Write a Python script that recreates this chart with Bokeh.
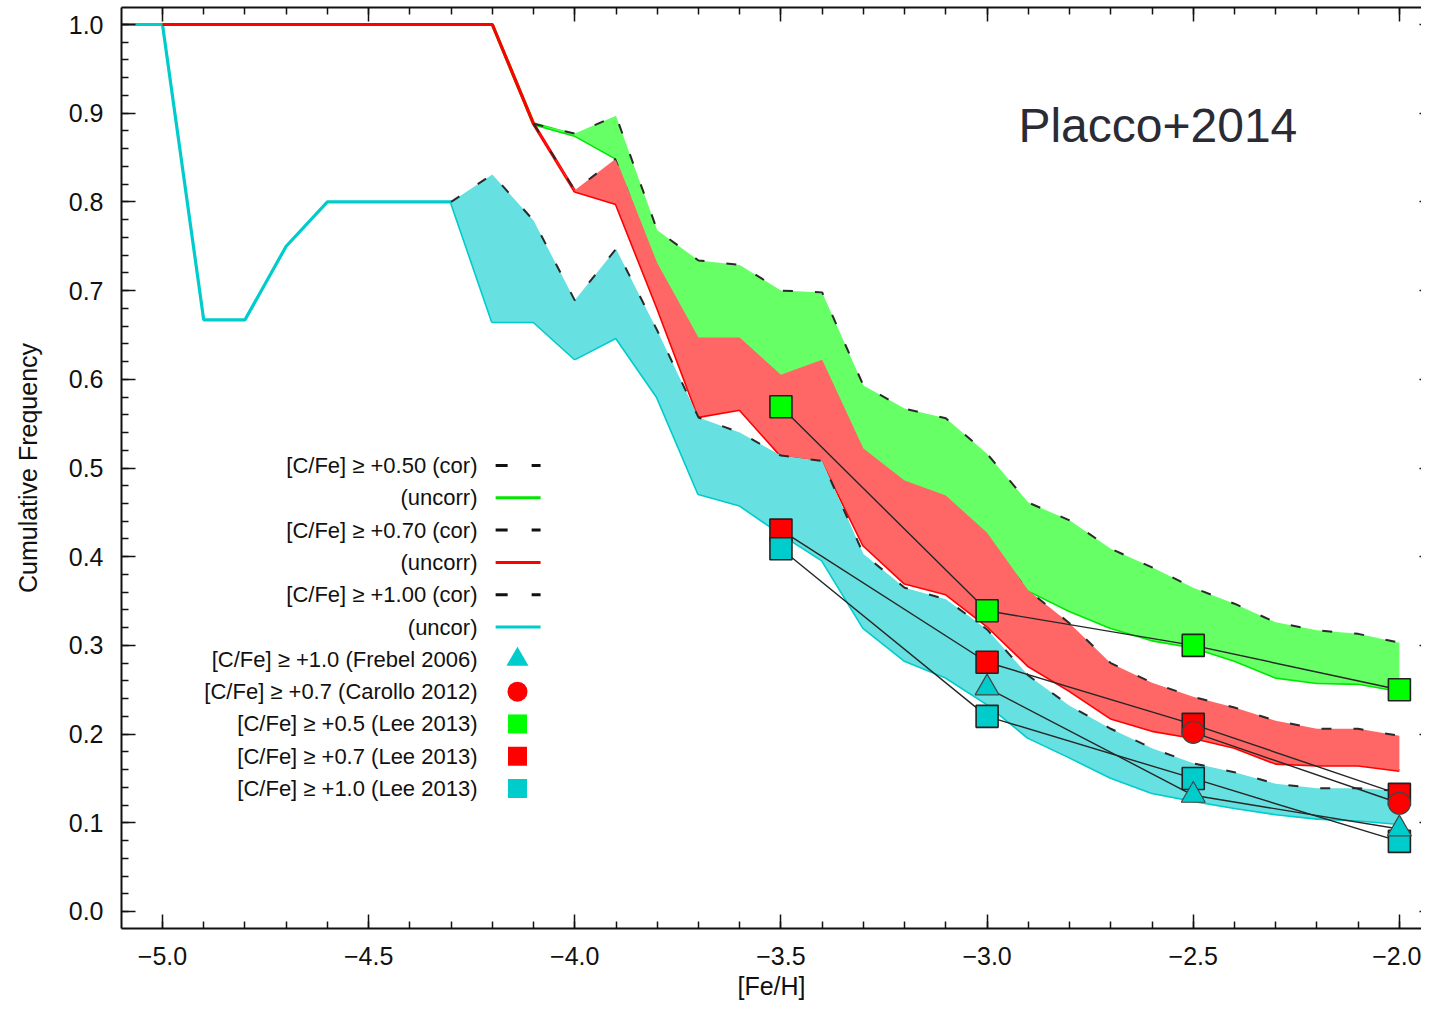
from bokeh.plotting import figure
from bokeh.models import Range1d, LinearAxis, FixedTicker, CustomJSTickFormatter, Label
from bokeh.core.properties import value
from bokeh.embed import file_html
from bokeh.resources import INLINE

FONT = "Liberation Sans"

# ---------------- data ----------------
feh_cyan = [-5.1, -5.0, -4.9, -4.8, -4.7, -4.6, -4.5, -4.4, -4.3, -4.2, -4.1, -4.0,
            -3.9, -3.8, -3.7, -3.6, -3.5, -3.4, -3.3, -3.2, -3.1, -3.0, -2.9, -2.8,
            -2.7, -2.6, -2.5, -2.4, -2.3, -2.2, -2.1, -2.0]
feh = [-5.0, -4.9, -4.8, -4.7, -4.6, -4.5, -4.4, -4.3, -4.2, -4.1, -4.0,
       -3.9, -3.8, -3.7, -3.6, -3.5, -3.4, -3.3, -3.2, -3.1, -3.0, -2.9, -2.8,
       -2.7, -2.6, -2.5, -2.4, -2.3, -2.2, -2.1, -2.0]

# [C/Fe] >= +0.50
green_uncorr = [1.0, 1.0, 1.0, 1.0, 1.0, 1.0, 1.0, 1.0, 1.0, 0.888, 0.875,
                0.849, 0.731, 0.647, 0.647, 0.605, 0.622, 0.522, 0.486, 0.469, 0.427,
                0.362, 0.339, 0.320, 0.306, 0.298, 0.283, 0.264, 0.258, 0.257, 0.249]
green_cor = [0.888, 0.877, 0.897, 0.768, 0.734, 0.729, 0.700, 0.698, 0.593, 0.567,
             0.556, 0.516, 0.461, 0.441, 0.409, 0.388, 0.365, 0.347, 0.326, 0.317,
             0.313, 0.303]

# [C/Fe] >= +0.70
red_uncorr = [1.0, 1.0, 1.0, 1.0, 1.0, 1.0, 1.0, 1.0, 1.0, 0.888, 0.812,
              0.798, 0.681, 0.558, 0.566, 0.514, 0.508, 0.413, 0.370, 0.358, 0.322,
              0.277, 0.249, 0.218, 0.204, 0.196, 0.185, 0.167, 0.165, 0.165, 0.159]
red_cor = [0.888, 0.813, 0.849, 0.741, 0.657, 0.657, 0.615, 0.632, 0.532, 0.496,
           0.479, 0.437, 0.362, 0.325, 0.280, 0.258, 0.242, 0.230, 0.215, 0.206,
           0.206, 0.198]

# [C/Fe] >= +1.00
cyan_uncor = [1.0, 1.0, 0.667, 0.667, 0.750, 0.800, 0.800, 0.800, 0.800, 0.665, 0.665,
              0.623, 0.647, 0.580, 0.471, 0.458, 0.426, 0.396, 0.320, 0.283, 0.264,
              0.234, 0.196, 0.174, 0.151, 0.134, 0.125, 0.117, 0.110, 0.105, 0.103,
              0.099]
cyan_cor = [0.800, 0.831, 0.779, 0.689, 0.747, 0.655, 0.557, 0.540, 0.514, 0.508,
            0.403, 0.365, 0.352, 0.318, 0.266, 0.232, 0.206, 0.184, 0.167, 0.157,
            0.144, 0.139, 0.139, 0.136]

# literature points
frebel_feh = [-3.0, -2.5, -2.0]
frebel_frac = [0.252, 0.131, 0.093]
carollo_feh = [-2.5, -2.0]
carollo_frac = [0.202, 0.122]
lee_feh = [-3.5, -3.0, -2.5, -2.0]
lee05_frac = [0.569, 0.339, 0.300, 0.250]
lee07_frac = [0.430, 0.281, 0.211, 0.132]
lee10_frac = [0.409, 0.220, 0.150, 0.079]

x_ticks = [-5.0, -4.5, -4.0, -3.5, -3.0, -2.5, -2.0]
x_tick_labels = ["\u22125.0", "\u22124.5", "\u22124.0", "\u22123.5", "\u22123.0", "\u22122.5", "\u22122.0"]
y_ticks = [0.0, 0.1, 0.2, 0.3, 0.4, 0.5, 0.6, 0.7, 0.8, 0.9, 1.0]
y_tick_labels = ["0.0", "0.1", "0.2", "0.3", "0.4", "0.5", "0.6", "0.7", "0.8", "0.9", "1.0"]

legend_labels = ["[C/Fe] \u2265 +0.50 (cor)", "(uncorr)", "[C/Fe] \u2265 +0.70 (cor)", "(uncorr)",
                 "[C/Fe] \u2265 +1.00 (cor)", "(uncor)", "[C/Fe] \u2265 +1.0 (Frebel 2006)",
                 "[C/Fe] \u2265 +0.7 (Carollo 2012)", "[C/Fe] \u2265 +0.5 (Lee 2013)",
                 "[C/Fe] \u2265 +0.7 (Lee 2013)", "[C/Fe] \u2265 +1.0 (Lee 2013)"]

# ---------------- colours ----------------
G_LINE, G_FILL, G_MARK = "#00e800", "#66ff66", "#00ff00"
R_LINE, R_FILL, R_MARK = "#ff0000", "#ff6666", "#ff0000"
C_LINE, C_FILL, C_MARK = "#00cccc", "#66e0e0", "#00cccc"
DASH_C = "#2a2a2a"

x_minor = [round(-5.1 + 0.1 * i, 2) for i in range(33)]
y_minor = [round(0.02 * i, 2) for i in range(52)]

p = figure(width=1421, height=1002,
           x_range=Range1d(-5.0994, -1.9464), y_range=Range1d(-0.01917, 1.01917),
           output_backend="svg", toolbar_location=None,
           min_border_left=121, min_border_right=0, min_border_top=7, min_border_bottom=74,
           x_axis_label="[Fe/H]", y_axis_label="Cumulative Frequency")
p.outline_line_color = None
p.xgrid.visible = False
p.ygrid.visible = False
p.background_fill_color = "white"

fmt_code = "const i = tvals.findIndex(t => Math.abs(t - tick) < 1e-6); return i >= 0 ? tlabels[i] : '';"
p.xaxis.formatter = CustomJSTickFormatter(args=dict(tvals=x_ticks, tlabels=x_tick_labels), code=fmt_code)
p.yaxis.formatter = CustomJSTickFormatter(args=dict(tvals=y_ticks, tlabels=y_tick_labels), code=fmt_code)
p.xaxis.ticker = FixedTicker(ticks=x_ticks, minor_ticks=x_minor)
p.yaxis.ticker = FixedTicker(ticks=y_ticks, minor_ticks=y_minor)

for ax in list(p.xaxis) + list(p.yaxis):
    ax.major_tick_in = 14
    ax.major_tick_out = 0
    ax.minor_tick_in = 7
    ax.minor_tick_out = 0
    ax.axis_line_width = 2
    ax.axis_line_color = "#111111"
    ax.major_tick_line_width = 1.5
    ax.minor_tick_line_width = 1.5
    ax.major_tick_line_color = "#111111"
    ax.minor_tick_line_color = "#111111"
    ax.major_label_text_font = FONT
    ax.major_label_text_font_size = "25px"
    ax.major_label_text_color = "#111111"
    ax.axis_label_text_font = FONT
    ax.axis_label_text_font_size = "25px"
    ax.axis_label_text_font_style = "normal"
    ax.axis_label_text_color = "#111111"
p.xaxis.major_label_standoff = 18
p.xaxis.axis_label_standoff = 4
p.yaxis.major_label_standoff = 18
p.yaxis.axis_label_standoff = 24

empty = CustomJSTickFormatter(code="return '';")
top = LinearAxis(ticker=FixedTicker(ticks=x_ticks, minor_ticks=x_minor), formatter=empty,
                 major_tick_in=14, major_tick_out=0, minor_tick_in=7, minor_tick_out=0,
                 major_label_standoff=0, major_label_text_font_size="0px",
                 axis_line_width=2, axis_line_color="#111111",
                 major_tick_line_width=1.5, minor_tick_line_width=1.5,
                 major_tick_line_color="#111111", minor_tick_line_color="#111111")
p.add_layout(top, "above")
right = LinearAxis(ticker=FixedTicker(ticks=y_ticks), formatter=empty,
                   major_tick_in=2, major_tick_out=0, minor_tick_in=0, minor_tick_out=0,
                   major_label_standoff=0, major_label_text_font_size="0px",
                   axis_line_color=None, major_tick_line_width=1.5,
                   major_tick_line_color="#111111")
p.add_layout(right, "right")

# ---------------- uncorrected lines (drawn under the bands) ----------------
p.line(feh_cyan, cyan_uncor, line_color=C_LINE, line_width=3.2)
p.line(feh, green_uncorr, line_color=G_LINE, line_width=3.2)
p.line(feh, red_uncorr, line_color=R_LINE, line_width=3.2)

# ---------------- bands ----------------
nc = len(cyan_cor)
p.varea(x=feh_cyan[-nc:], y1=cyan_uncor[-nc:], y2=cyan_cor, fill_color=C_FILL)
nr = len(red_cor)
p.varea(x=feh[-nr:], y1=red_uncorr[-nr:], y2=red_cor, fill_color=R_FILL)
p.line(feh[-nr:], red_cor, line_color=DASH_C, line_width=2, line_dash="10 22")
ng = len(green_cor)
p.varea(x=feh[-ng:], y1=green_uncorr[-ng:], y2=green_cor, fill_color=G_FILL)
p.line(feh[-ng:], green_cor, line_color=DASH_C, line_width=2, line_dash="10 22")
p.line(feh_cyan[-nc:], cyan_cor, line_color=DASH_C, line_width=2, line_dash="10 22")

# ---------------- literature points ----------------
LINK = "#262626"
p.line(lee_feh, lee05_frac, line_color=LINK, line_width=1.4)
p.line(lee_feh, lee07_frac, line_color=LINK, line_width=1.4)
p.line(lee_feh, lee10_frac, line_color=LINK, line_width=1.4)
p.line(carollo_feh, carollo_frac, line_color=LINK, line_width=1.4)
p.line(frebel_feh, frebel_frac, line_color=LINK, line_width=1.4)

p.scatter(lee_feh, lee05_frac, marker="square", size=22, fill_color=G_MARK, line_color="#222222", line_width=1.6)
p.scatter(lee_feh, lee07_frac, marker="square", size=22, fill_color=R_MARK, line_color="#222222", line_width=1.6)
p.scatter(lee_feh, lee10_frac, marker="square", size=22, fill_color=C_MARK, line_color="#222222", line_width=1.6)
p.scatter(carollo_feh, carollo_frac, marker="circle", size=22, fill_color=R_MARK, line_color="#444444", line_width=1.2)
p.scatter(frebel_feh, frebel_frac, marker="triangle", size=24, fill_color=C_MARK, line_color="#444444", line_width=1.2)

# ---------------- legend (text left, sample right) ----------------
lx_text = -4.236
lx0, lx1 = -4.192, -4.083
lx_mark = -4.139
ly0, ldy = 0.5028, 0.03642
rows_y = [ly0 - i * ldy for i in range(len(legend_labels))]
p.text(x=[lx_text] * len(legend_labels), y=rows_y, text=legend_labels,
       text_font=value(FONT), text_font_size="22px", text_align="right",
       text_baseline="middle", text_color="#111111")
for i in (0, 2, 4):
    p.line([lx0, lx1], [rows_y[i], rows_y[i]], line_color="#111111", line_width=3, line_dash="12 24")
for i, col in ((1, G_LINE), (3, R_LINE), (5, C_LINE)):
    p.line([lx0, lx1], [rows_y[i], rows_y[i]], line_color=col, line_width=3)
p.scatter([lx_mark], [rows_y[6]], marker="triangle", size=22, fill_color=C_MARK, line_color=None)
p.scatter([lx_mark], [rows_y[7]], marker="circle", size=20, fill_color=R_MARK, line_color=None)
p.scatter([lx_mark], [rows_y[8]], marker="square", size=19, fill_color=G_MARK, line_color=None)
p.scatter([lx_mark], [rows_y[9]], marker="square", size=19, fill_color=R_MARK, line_color=None)
p.scatter([lx_mark], [rows_y[10]], marker="square", size=19, fill_color=C_MARK, line_color=None)

p.add_layout(Label(x=-2.924, y=0.886, text="Placco+2014", text_font=FONT,
                   text_font_size="48px", text_color="#2b2b36", text_baseline="alphabetic"))

open("out.html", "w").write(file_html(p, INLINE))
